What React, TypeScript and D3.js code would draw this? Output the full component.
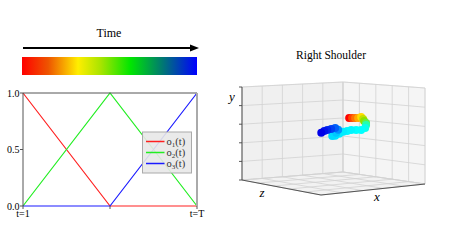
import React from 'react';
import * as d3 from 'd3';

const W = 476, H = 246;

// left panel: basis functions over normalised time
const tSteps = [0, 0.5, 1];
const o1 = [1, 0, 0];
const o2 = [0, 1, 0];
const o3 = [0, 0, 1];
const seriesColors = ['#ff2020', '#22ee22', '#1a1aff'];
const yTicks = [0, 0.5, 1];
const xTicks = [0, 0.5, 1];
const xTickLabels = ['t=1', '', 't=T'];

// time colour bar
const gradOffsets = [0, 0.15, 0.32, 0.45, 0.62, 0.8, 1];
const gradColors = ['#ff0000', '#ee5500', '#ffee00', '#a8e400', '#00e600', '#007a70', '#0000ff'];

// right shoulder trajectory (normalised x, y, z) and its time stamp
const shX = [0.66, 0.689, 0.718, 0.748, 0.777, 0.796, 0.806, 0.825, 0.825, 0.816, 0.777, 0.728, 0.68, 0.641, 0.602, 0.563, 0.524, 0.495, 0.534, 0.553, 0.524, 0.485, 0.447, 0.417, 0.388];
const shY = [0.672, 0.67, 0.667, 0.665, 0.673, 0.65, 0.629, 0.605, 0.584, 0.553, 0.535, 0.539, 0.543, 0.536, 0.529, 0.511, 0.493, 0.495, 0.524, 0.554, 0.577, 0.569, 0.562, 0.554, 0.536];
const shZ = [0.5, 0.5, 0.5, 0.5, 0.5, 0.5, 0.5, 0.5, 0.5, 0.5, 0.5, 0.5, 0.5, 0.5, 0.5, 0.5, 0.5, 0.5, 0.5, 0.5, 0.5, 0.5, 0.5, 0.5, 0.5];
const shT = [0, 0.08, 0.14, 0.22, 0.3, 0.38, 0.45, 0.5, 0.58, 0.64, 0.66, 0.66, 0.67, 0.67, 0.68, 0.68, 0.69, 0.7, 0.72, 0.78, 0.85, 0.9, 0.94, 0.97, 1];
const gridTicks = [0, 0.2, 0.4, 0.6, 0.8, 1];

const serif = '"Liberation Serif", "DejaVu Serif", serif';

// projected corners of the 3d box: b = floor, t = top; index = x,z
const C = {
  b00: [242, 180], b10: [343, 172], b01: [321, 195], b11: [425, 184],
  t00: [242, 87], t10: [343, 82], t01: [321, 95], t11: [425, 88],
};
const lerp = (a: number[], b: number[], t: number) => [a[0] + (b[0] - a[0]) * t, a[1] + (b[1] - a[1]) * t];
const proj = (x: number, y: number, z: number) => {
  const b = lerp(lerp(C.b00, C.b10, x), lerp(C.b01, C.b11, x), z);
  const t = lerp(lerp(C.t00, C.t10, x), lerp(C.t01, C.t11, x), z);
  return lerp(b, t, y);
};
const poly = (pts: number[][]) => pts.map(p => p.join(',')).join(' ');

const LinePanel = () => {
  const x = d3.scaleLinear().domain([0, 1]).range([23, 197]);
  const y = d3.scaleLinear().domain([0, 1]).range([206, 93]);
  const line = d3.line<number>().x((d, i) => x(tSteps[i])).y(d => y(d));
  const legendY = [141.5, 152.5, 163.5];
  return (
    <g>
      <text x={109} y={37} textAnchor="middle" fontFamily={serif} fontSize={12}>Time</text>
      <line x1={23} x2={192} y1={48} y2={48} stroke="#000" strokeWidth={2} />
      <path d="M199,48 L190,44.5 L190,51.5 Z" fill="#000" />
      <defs>
        <linearGradient id="timeGrad" x1="0" x2="1" y1="0" y2="0">
          {gradOffsets.map((o, i) => <stop key={i} offset={o} stopColor={gradColors[i]} />)}
        </linearGradient>
      </defs>
      <rect x={22} y={57} width={175} height={18} fill="url(#timeGrad)" />

      {[o1, o2, o3].map((s, i) => (
        <path key={i} d={line(s) || ''} fill="none" stroke={seriesColors[i]} strokeWidth={1.2} />
      ))}
      <line x1={x(0)} x2={x(1)} y1={y(1)} y2={y(1)} stroke="#555" />
      <line x1={x(0)} x2={x(0)} y1={y(0)} y2={y(1)} stroke="#555" />
      <line x1={x(1)} x2={x(1)} y1={y(0)} y2={y(1)} stroke="#aaa" strokeWidth={2} />
      {yTicks.map(t => (
        <g key={t}>
          <line x1={x(0) - 3} x2={x(0)} y1={y(t)} y2={y(t)} stroke="#555" />
          <text x={x(0) - 3.5} y={y(t) + 3.5} textAnchor="end" fontFamily={serif} fontSize={10}>{t.toFixed(1)}</text>
        </g>
      ))}
      {xTicks.map((t, i) => (
        <g key={t}>
          <line x1={x(t)} x2={x(t)} y1={y(0)} y2={y(0) + 3} stroke="#555" />
          <text x={x(t)} y={217} textAnchor="middle" fontFamily={serif} fontSize={10}>{xTickLabels[i]}</text>
        </g>
      ))}

      <rect x={142.5} y={132} width={49} height={41} fill="#e8e8e8" fillOpacity={0.9} stroke="#aaa" />
      {legendY.map((ly, i) => (
        <g key={i}>
          <line x1={146} x2={164.5} y1={ly} y2={ly} stroke={seriesColors[i]} strokeWidth={1.5} />
          <text x={166.5} y={ly + 3.5} fontFamily={serif} fontSize={10.5} fill="#333">
            o<tspan fontSize={7} dy={2}>{i + 1}</tspan><tspan dy={-2}>(t)</tspan>
          </text>
        </g>
      ))}
    </g>
  );
};

const ShoulderPanel = () => {
  const sx = d3.scaleLinear().domain([0, 1]).range([0, 1]);
  const sy = d3.scaleLinear().domain([0, 1]).range([0, 1]);
  const sz = d3.scaleLinear().domain([0, 1]).range([0, 1]);
  const color = d3.scaleLinear<string>()
    .domain([0, 0.15, 0.3, 0.45, 0.55, 0.66, 0.8, 1])
    .range(['#ff0000', '#ff7a00', '#ffdd00', '#8ee000', '#30ff90', '#00ffff', '#0080ff', '#0000e8']);
  const grid = '#d2d2d2';
  return (
    <g>
      <text x={331} y={59} textAnchor="middle" fontFamily={serif} fontSize={11.5}>Right Shoulder</text>
      {/* panes */}
      <polygon points={poly([proj(0, 0, 0), proj(1, 0, 0), proj(1, 1, 0), proj(0, 1, 0)])} fill="#f0f0f0" stroke="#e0e0e0" strokeWidth={0.8} />
      <polygon points={poly([proj(1, 0, 0), proj(1, 0, 1), proj(1, 1, 1), proj(1, 1, 0)])} fill="#f5f5f5" stroke="#e0e0e0" strokeWidth={0.8} />
      <polygon points={poly([proj(0, 0, 0), proj(1, 0, 0), proj(1, 0, 1), proj(0, 0, 1)])} fill="#f2f2f2" stroke="#e0e0e0" strokeWidth={0.8} />
      {/* grid lines */}
      {gridTicks.map(t => {
        const gx = sx(t), gy = sy(t), gz = sz(t);
        const segs = [
          [proj(gx, 0, 0), proj(gx, 1, 0)],
          [proj(gx, 0, 0), proj(gx, 0, 1)],
          [proj(1, 0, gz), proj(1, 1, gz)],
          [proj(0, 0, gz), proj(1, 0, gz)],
          [proj(0, gy, 0), proj(1, gy, 0)],
          [proj(1, gy, 0), proj(1, gy, 1)],
        ];
        return segs.map((s, k) => (
          <line key={`${t}-${k}`} x1={s[0][0]} y1={s[0][1]} x2={s[1][0]} y2={s[1][1]} stroke={grid} strokeWidth={0.8} />
        ));
      })}
      {/* axis lines */}
      {[[proj(0, 0, 0), proj(0, 1, 0)], [proj(0, 0, 0), proj(0, 0, 1)], [proj(0, 0, 1), proj(1, 0, 1)]].map((s, k) => (
        <line key={k} x1={s[0][0]} y1={s[0][1]} x2={s[1][0]} y2={s[1][1]} stroke="#444" strokeWidth={0.9} />
      ))}
      {gridTicks.map(t => {
        const p = proj(0, sy(t), 0);
        return <line key={t} x1={p[0] - 3} x2={p[0]} y1={p[1]} y2={p[1]} stroke="#444" strokeWidth={0.9} />;
      })}
      <text x={232} y={101} textAnchor="middle" fontFamily={serif} fontStyle="italic" fontSize={13}>y</text>
      <text x={262} y={197} textAnchor="middle" fontFamily={serif} fontStyle="italic" fontSize={13}>z</text>
      <text x={377} y={201} textAnchor="middle" fontFamily={serif} fontStyle="italic" fontSize={13}>x</text>
      {/* trajectory */}
      {shX.map((v, i) => {
        const p = proj(sx(v), sy(shY[i]), sz(shZ[i]));
        return <circle key={i} cx={p[0]} cy={p[1]} r={4} fill={color(shT[i])} />;
      })}
    </g>
  );
};

export default function App() {
  return (
    <svg width={W} height={H} style={{ position: 'absolute', left: 0, top: 0, background: '#fff' }}>
      <LinePanel />
      <ShoulderPanel />
    </svg>
  );
}
